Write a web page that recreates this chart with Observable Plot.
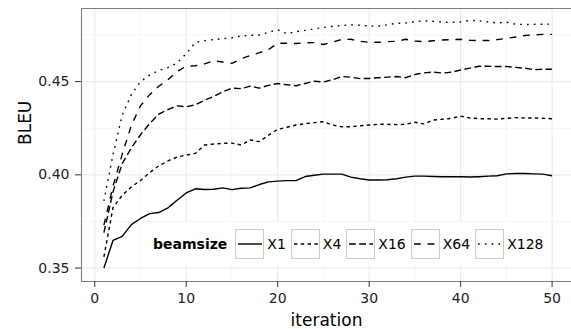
<!DOCTYPE html>
<html><head><meta charset="utf-8">
<script src="https://cdn.jsdelivr.net/npm/d3@7"></script>
<script src="https://cdn.jsdelivr.net/npm/@observablehq/plot@0.6"></script>
<style>
html,body{margin:0;padding:0;background:#fff;}
#wrap{position:relative;width:571px;height:329px;overflow:hidden;font-family:"DejaVu Sans",sans-serif;}
#legend{position:absolute;left:146px;top:222px;height:43px;background:#fff;display:flex;align-items:center;padding:0 6px 0 7px;font-size:14px;color:#000;white-space:nowrap;}
#legend .title{font-weight:bold;margin-right:3px;}
#legend .key{width:29px;height:30px;box-sizing:border-box;border:1px solid #cccccc;margin-left:5px;background:#fff;display:block;}
#legend .lab{margin-left:3px;}
</style>
</head><body>
<div id="wrap"></div>
<script>
const iterations = [1,2,3,4,5,6,7,8,9,10,11,12,13,14,15,16,17,18,19,20,21,22,23,24,25,26,27,28,29,30,31,32,33,34,35,36,37,38,39,40,41,42,43,44,45,46,47,48,49,50];
const beamsizes = ["X1","X4","X16","X64","X128"];
const bleuX1 = [0.350,0.3649,0.367,0.3733,0.3766,0.3792,0.3798,0.3823,0.3864,0.3903,
  0.3925,0.3921,0.3923,0.3930,0.3921,0.3928,0.3930,0.3948,0.3962,0.3966,
  0.3969,0.3969,0.3991,0.3998,0.4004,0.4004,0.4004,0.3988,0.3979,0.3972,
  0.3972,0.3974,0.3979,0.3988,0.3993,0.3993,0.3991,0.3990,0.3990,0.3990,
  0.3988,0.3990,0.3993,0.3995,0.4005,0.4007,0.4007,0.4005,0.4004,0.3995];
const bleuX4 = [0.356,0.3825,0.389,0.3935,0.397,0.4012,0.4048,0.4075,0.4095,0.4106,
  0.4115,0.416,0.4165,0.4169,0.4170,0.416,0.4187,0.4178,0.4213,0.4244,
  0.4255,0.4267,0.4274,0.428,0.4285,0.4267,0.4258,0.4258,0.4263,0.4267,
  0.4271,0.4271,0.4269,0.4271,0.4282,0.4273,0.4294,0.4298,0.4303,0.4315,
  0.4305,0.4301,0.4301,0.4299,0.4303,0.4307,0.4305,0.4305,0.4303,0.4301];
const bleuX16 = [0.369,0.391,0.406,0.4145,0.4215,0.4275,0.4325,0.435,0.437,0.4365,
  0.4375,0.440,0.442,0.4445,0.4465,0.4462,0.4476,0.4465,0.448,0.449,
  0.4483,0.4478,0.449,0.4502,0.4498,0.451,0.4527,0.4524,0.4516,0.4517,
  0.4521,0.4524,0.4527,0.4521,0.4538,0.4547,0.4551,0.4546,0.455,0.4562,
  0.4572,0.4582,0.4582,0.4581,0.4581,0.4576,0.4572,0.4564,0.4566,0.4566];
const bleuX64 = [0.373,0.394,0.411,0.4265,0.437,0.443,0.4475,0.451,0.4555,0.4582,
  0.4585,0.4595,0.4612,0.4605,0.4598,0.4622,0.464,0.4655,0.4672,0.4705,
  0.4706,0.4704,0.4708,0.4709,0.4699,0.4712,0.4726,0.4727,0.4716,0.4711,
  0.4711,0.4714,0.4716,0.4727,0.4718,0.4714,0.4719,0.4723,0.4725,0.4727,
  0.4722,0.472,0.472,0.4725,0.4732,0.4739,0.4747,0.4751,0.4753,0.4753];
const bleuX128 = [0.386,0.411,0.432,0.443,0.450,0.4535,0.456,0.4575,0.460,0.465,
  0.471,0.472,0.4725,0.473,0.4735,0.4745,0.4748,0.475,0.4765,0.4778,
  0.4757,0.4768,0.4775,0.4783,0.479,0.4797,0.48,0.4805,0.4802,0.4798,
  0.4797,0.4805,0.4813,0.4814,0.4822,0.4826,0.4823,0.4819,0.4817,0.482,
  0.4828,0.4826,0.482,0.4814,0.4819,0.4808,0.4806,0.4807,0.4808,0.4808];
const xTicks = [0,10,20,30,40,50];
const xMinor = [5,15,25,35,45];
const yTicks = [0.35,0.40,0.45];
const yMinor = [0.375,0.425,0.475];

const seriesValues = [bleuX1,bleuX4,bleuX16,bleuX64,bleuX128];
const dashes = {X1: null, X4: "3.4,3.4", X16: "6.8,3.4", X64: "6.8,6.8", X128: "1.7,5.1"};
const data = beamsizes.map((b, k) => iterations.map((it, i) => ({iteration: it, bleu: seriesValues[k][i], beamsize: b})));

const chart = Plot.plot({
  width: 571, height: 329,
  marginLeft: 81, marginRight: 0, marginTop: 8, marginBottom: 48,
  style: {fontFamily: "DejaVu Sans", fontSize: "14px", background: "white", overflow: "hidden"},
  x: {domain: [-1.45, 52.45], range: [81, 574]},
  y: {domain: [0.3428, 0.4892], range: [281, 8]},
  marks: [
    Plot.ruleX(xMinor, {stroke: "#f3f3f3", strokeWidth: 0.8}),
    Plot.ruleY(yMinor, {stroke: "#f3f3f3", strokeWidth: 0.8}),
    Plot.ruleX(xTicks, {stroke: "#ebebeb", strokeWidth: 1.1}),
    Plot.ruleY(yTicks, {stroke: "#ebebeb", strokeWidth: 1.1}),
    ...data.map((d, k) => Plot.line(d, {
      x: "iteration", y: "bleu", stroke: "black", strokeWidth: 1.4,
      strokeDasharray: dashes[beamsizes[k]] || undefined,
      strokeLinecap: "butt", strokeLinejoin: "round", curve: "linear"
    })),
    Plot.frame({anchor: "left", stroke: "#7f7f7f", strokeWidth: 1.1}),
    Plot.frame({anchor: "top", stroke: "#7f7f7f", strokeWidth: 1.1}),
    Plot.frame({anchor: "bottom", stroke: "#7f7f7f", strokeWidth: 1.1}),
    Plot.axisY(yTicks, {tickFormat: d3.format(".2f"), tickSize: 6, tickPadding: 6, fontSize: 14, label: null, stroke: "#333", fill: "#222"}),
    Plot.axisX(xTicks, {tickFormat: d3.format("d"), tickSize: 6, tickPadding: 6, fontSize: 14, label: null, stroke: "#333", fill: "#222"}),
    Plot.text(["BLEU"], {text: d => d, frameAnchor: "left", dx: -56, rotate: -90, fontSize: 17, fill: "black"}),
    Plot.text(["iteration"], {text: d => d, frameAnchor: "bottom", dy: 44.5, lineAnchor: "bottom", fontSize: 17, fill: "black"})
  ]
});
const wrap = document.getElementById("wrap");
wrap.appendChild(chart);

// legend overlay
const legend = document.createElement("div");
legend.id = "legend";
const t = document.createElement("span");
t.className = "title"; t.textContent = "beamsize";
legend.appendChild(t);
const ns = "http://www.w3.org/2000/svg";
beamsizes.forEach(b => {
  const svg = document.createElementNS(ns, "svg");
  svg.setAttribute("class", "key");
  svg.setAttribute("width", 29); svg.setAttribute("height", 30);
  const ln = document.createElementNS(ns, "line");
  ln.setAttribute("x1", 2); ln.setAttribute("x2", 26);
  ln.setAttribute("y1", 14); ln.setAttribute("y2", 14);
  ln.setAttribute("stroke", "black"); ln.setAttribute("stroke-width", 1.4);
  if (dashes[b]) ln.setAttribute("stroke-dasharray", dashes[b]);
  svg.appendChild(ln);
  legend.appendChild(svg);
  const lab = document.createElement("span");
  lab.className = "lab"; lab.textContent = b;
  legend.appendChild(lab);
});
wrap.appendChild(legend);
</script>
</body></html>
